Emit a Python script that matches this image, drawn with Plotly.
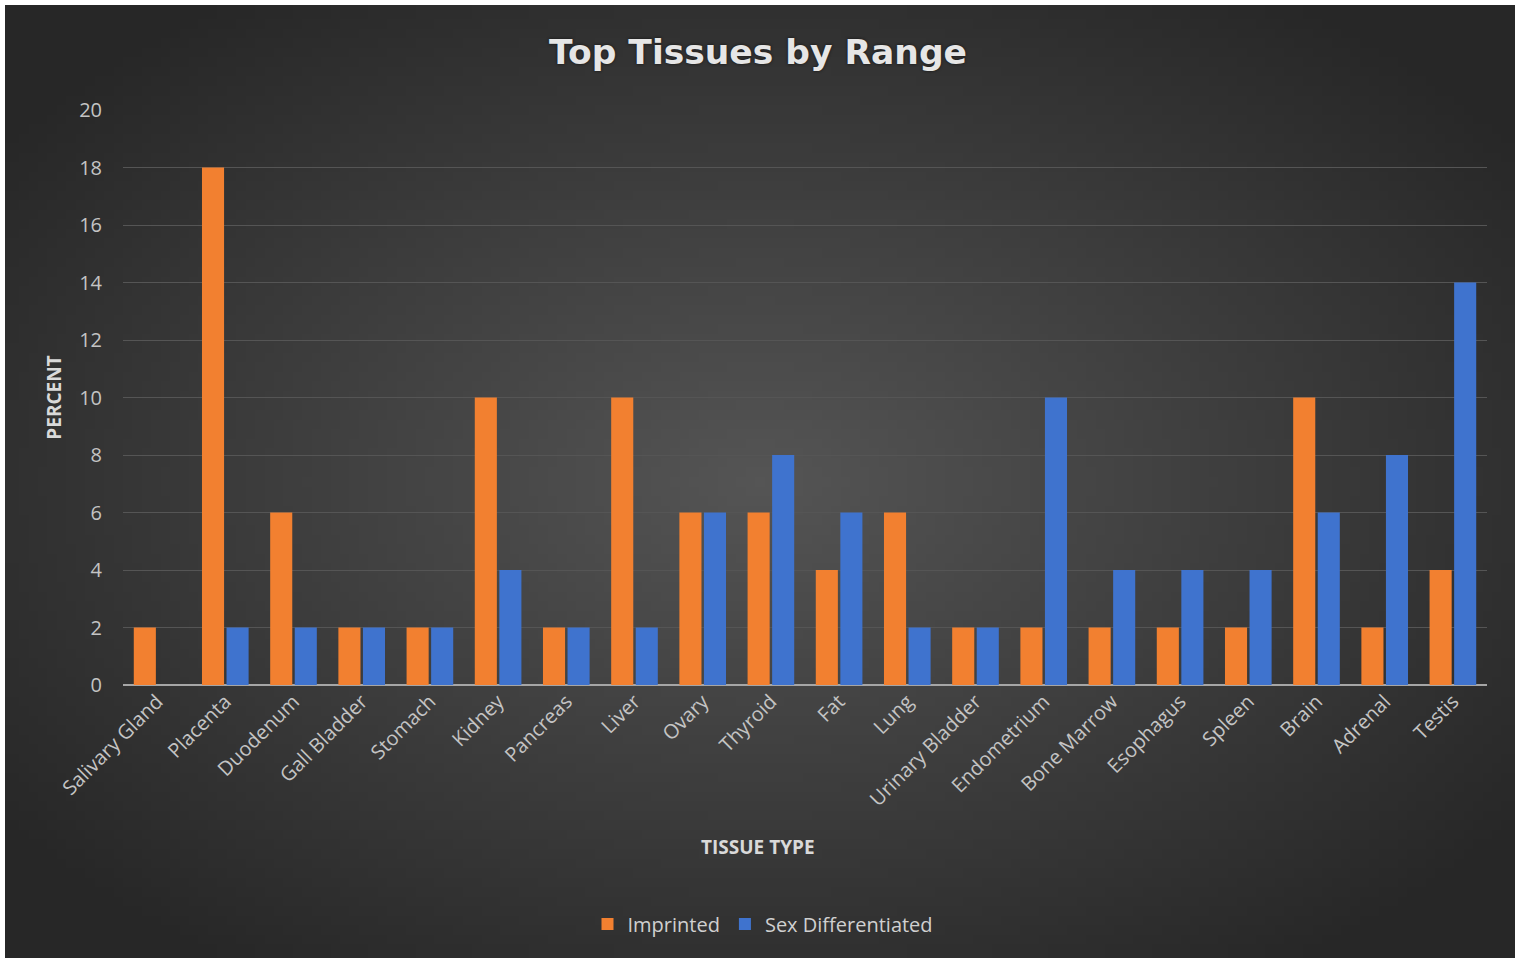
import base64
import struct
import zlib

import plotly.graph_objects as go

# ---------------- data ----------------
tissues = ["Salivary Gland", "Placenta", "Duodenum", "Gall Bladder", "Stomach",
           "Kidney", "Pancreas", "Liver", "Ovary", "Thyroid", "Fat", "Lung",
           "Urinary Bladder", "Endometrium", "Bone Marrow", "Esophagus",
           "Spleen", "Brain", "Adrenal", "Testis"]
imprinted = [2, 18, 6, 2, 2, 10, 2, 10, 6, 6, 4, 6, 2, 2, 2, 2, 2, 10, 2, 4]
sex_diff = [0, 2, 2, 2, 2, 4, 2, 2, 6, 8, 6, 2, 2, 10, 4, 4, 4, 6, 8, 14]
y_ticks = [0, 2, 4, 6, 8, 10, 12, 14, 16, 18, 20]

# ---------------- background (radial gradient PNG) ----------------
def radial_png(w, h, inner, outer, cx=0.5, cy=0.5):
    rows = []
    for j in range(h):
        row = bytearray([0])
        for i in range(w):
            dx = (i + 0.5) / w - cx
            dy = (j + 0.5) / h - cy
            d = min(1.0, ((dx / 0.62) ** 2 + (dy / 0.62) ** 2) ** 0.5)
            v = int(round(inner + (outer - inner) * d))
            row += bytes([v, v, v])
        rows.append(bytes(row))
    raw = b"".join(rows)

    def chunk(tag, data):
        c = struct.pack(">I", len(data)) + tag + data
        return c + struct.pack(">I", zlib.crc32(tag + data) & 0xffffffff)

    png = b"\x89PNG\r\n\x1a\n"
    png += chunk(b"IHDR", struct.pack(">IIBBBBB", w, h, 8, 2, 0, 0, 0))
    png += chunk(b"IDAT", zlib.compress(raw, 9))
    png += chunk(b"IEND", b"")
    return "data:image/png;base64," + base64.b64encode(png).decode()

bg_src = radial_png(160, 100, 0x55, 0x27, 0.5, 0.5)

W, H = 1523, 962
L, R, T, B = 123, 36, 110, 277
pw, ph = W - L - R, H - T - B

fig = go.Figure()
fig.add_trace(go.Bar(name="Imprinted", x=tissues, y=imprinted,
                     marker=dict(color="#F28030", line=dict(width=0))))
fig.add_trace(go.Bar(name="Sex Differentiated", x=tissues, y=sex_diff,
                     marker=dict(color="#3F73CE", line=dict(width=0))))

font_family = "Open Sans, Noto Sans, sans-serif"

fig.update_layout(
    width=W, height=H,
    margin=dict(l=L, r=R, t=T, b=B, autoexpand=False),
    paper_bgcolor="white",
    plot_bgcolor="rgba(0,0,0,0)",
    barmode="group", bargap=0.28, bargroupgap=0.1,
    font=dict(family=font_family, color="#bfbfbf", size=20),
    title=dict(text="Top Tissues by Range", x=758 / W, xref="container",
               xanchor="center",
               y=1 - 52 / H, yref="container", yanchor="middle",
               font=dict(size=34.5, color="#e6e6e6",
                         family="DejaVu Sans, Open Sans, sans-serif",
                         weight="bold", shadow="0px 0px 3px #111")),
    xaxis=dict(tickangle=-45, showgrid=False, zeroline=False, showline=False,
               ticks="", tickfont=dict(size=20, color="#c4c4c4")),
    yaxis=dict(range=[0, 20], tickvals=y_ticks, showgrid=True,
               gridcolor="#555555", gridwidth=1, zeroline=True,
               zerolinecolor="#a6a6a6", zerolinewidth=2, showline=False,
               ticks="", ticklabelstandoff=20,
               tickfont=dict(size=20, color="#c4c4c4"),
               title=dict(text="PERCENT", standoff=12,
                          font=dict(size=19, color="#d9d9d9", weight="bold"))),
    legend=dict(orientation="h", x=763 / W, xref="container", xanchor="center",
                y=(H - B - 924) / ph, yanchor="middle",
                font=dict(size=20, color="#d0d0d0"),
                bgcolor="rgba(0,0,0,0)", itemwidth=30, traceorder="normal"),
    annotations=[dict(text="TISSUE TYPE", xref="paper", yref="paper",
                      x=(758 - L) / pw, y=(H - B - 847) / ph,
                      xanchor="center", yanchor="middle", showarrow=False,
                      font=dict(size=19, color="#d9d9d9", weight="bold"))],
    images=[dict(source=bg_src, xref="paper", yref="paper",
                 x=(5 - L) / pw, y=(H - B - 5) / ph,
                 sizex=(1515 - 5) / pw, sizey=(958 - 5) / ph,
                 xanchor="left", yanchor="top", sizing="stretch",
                 layer="below")],
)

fig.write_html("out.html")
